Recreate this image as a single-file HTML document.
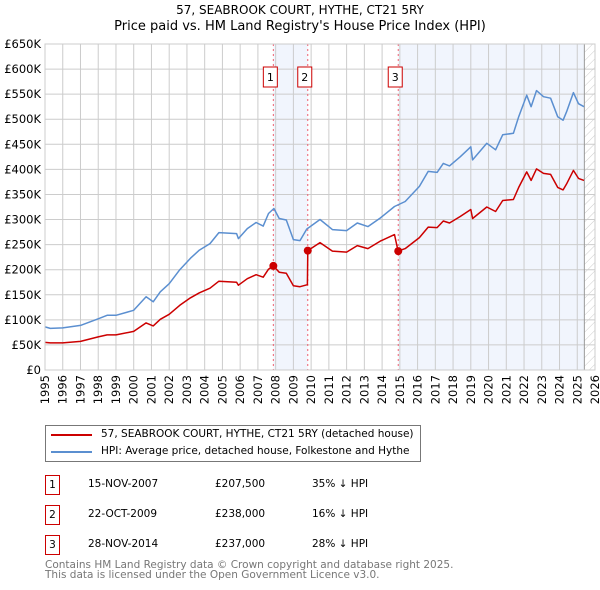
<!DOCTYPE html>
<html><head><meta charset="utf-8">
<style>
body{margin:0;background:#fff;font-family:"DejaVu Sans","Liberation Sans",sans-serif;}
#wrap{position:relative;width:600px;height:590px;overflow:hidden}
.t{position:absolute;font-size:10.5px;color:#000;white-space:nowrap}
</style></head>
<body>
<div id="wrap">
<svg id="chart" width="600" height="420" style="position:absolute;left:0;top:0"></svg>
<div class="t" style="left:0;width:600px;text-align:center;top:3px;font-size:12px">57, SEABROOK COURT, HYTHE, CT21 5RY</div>
<div class="t" style="left:0;width:600px;text-align:center;top:19px;font-size:13px">Price paid vs. HM Land Registry's House Price Index (HPI)</div>
<div style="position:absolute;left:45px;top:425px;width:376px;height:37px;border:1px solid #777;box-sizing:border-box">
  <div style="position:absolute;left:5px;top:8px;width:41px;height:2px;background:#cc0000"></div>
  <div class="t" style="left:55px;top:2px">57, SEABROOK COURT, HYTHE, CT21 5RY (detached house)</div>
  <div style="position:absolute;left:5px;top:25px;width:41px;height:2px;background:#5b8fd0"></div>
  <div class="t" style="left:55px;top:19px">HPI: Average price, detached house, Folkestone and Hythe</div>
</div>
<div id="table"></div>
<div class="t" style="left:45px;top:560px;color:#777;line-height:10px">Contains HM Land Registry data © Crown copyright and database right 2025.<br>This data is licensed under the Open Government Licence v3.0.</div>
</div>
<script>
const hpiYears=[1995,1995.3,1996,1997,1998,1998.5,1999,2000,2000.7,2001.1,2001.5,2002,2002.6,2003.2,2003.7,2004.3,2004.8,2005.8,2005.9,2006.4,2006.9,2007.3,2007.6,2007.9,2008.2,2008.6,2009.0,2009.37,2009.75,2010.5,2011.2,2012,2012.6,2013.2,2013.9,2014.7,2015.3,2016.1,2016.6,2017.1,2017.45,2017.8,2018.4,2019,2019.1,2019.9,2020.4,2020.8,2021.4,2021.7,2022.15,2022.4,2022.7,2023.1,2023.5,2023.9,2024.2,2024.4,2024.78,2025.07,2025.38];
const hpiValues=[86,83,84,89,102,109,109,119,146,136,156,172,200,223,239,252,274,272,262,282,294,287,312,322,302,299,260,258,281,300,280,278,293,286,303,326,336,366,396,394,412,407,425,445,419,452,439,469,472,505,548,525,557,545,542,505,498,515,553,531,525];
const redYears=[1995,1995.3,1996,1997,1998,1998.5,1999,2000,2000.7,2001.1,2001.5,2002,2002.6,2003.2,2003.7,2004.3,2004.8,2005.8,2005.9,2006.4,2006.9,2007.3,2007.6,2007.87,2008.2,2008.6,2009.0,2009.37,2009.79,2009.81,2010.5,2011.2,2012,2012.6,2013.2,2013.9,2014.7,2014.9,2015.3,2016.1,2016.6,2017.1,2017.45,2017.8,2018.4,2019,2019.1,2019.9,2020.4,2020.8,2021.4,2021.7,2022.15,2022.4,2022.7,2023.1,2023.5,2023.9,2024.2,2024.4,2024.78,2025.07,2025.38];
const redValues=[55,54,54,57,66,70,70,77,94,88,101,111,129,144,154,163,177,175,169,182,190,185,201,207.5,195,193,168,166,170,238,254,237,235,248,242,257,270,237,242,264,285,284,297,293,306,320,302,325,316,338,340,364,395,378,401,392,390,364,359,371,398,382,378];
const saleLabels=["1","2","3"];
const saleYears=[2007.87,2009.81,2014.91];
const salePrices=[207.5,238,237];
const saleDates=["15-NOV-2007","22-OCT-2009","28-NOV-2014"];
const salePriceText=["£207,500","£238,000","£237,000"];
const saleHpiText=["35% ↓ HPI","16% ↓ HPI","28% ↓ HPI"];
const yTicks=[0,50,100,150,200,250,300,350,400,450,500,550,600,650];
const xTicks=[1995,1996,1997,1998,1999,2000,2001,2002,2003,2004,2005,2006,2007,2008,2009,2010,2011,2012,2013,2014,2015,2016,2017,2018,2019,2020,2021,2022,2023,2024,2025,2026];

const X0=45,X1=595,Y0=370,Y1=44;
const xs=y=>X0+(y-1995)/(2026-1995)*(X1-X0);
const ys=v=>Y0-v/650*(Y0-Y1);
const NS="http://www.w3.org/2000/svg";
const svg=document.getElementById('chart');
function mk(tag,attrs,parent){const e=document.createElementNS(NS,tag);for(const k in attrs)e.setAttribute(k,attrs[k]);(parent||svg).appendChild(e);return e;}

let r=mk('rect',{x:xs(saleYears[0]),y:Y1,width:xs(saleYears[1])-xs(saleYears[0]),height:Y0-Y1,fill:'#eef3fc',opacity:0.8});


r=mk('rect',{x:xs(saleYears[2]),y:Y1,width:xs(2025.4)-xs(saleYears[2]),height:Y0-Y1,fill:'#eef3fc',opacity:0.8});


const defs=mk('defs',{});
const pat=mk('pattern',{id:'h',width:6,height:6,patternUnits:'userSpaceOnUse',patternTransform:'rotate(45)'},defs);
mk('line',{x1:0,y1:0,x2:0,y2:6,stroke:'#ccc','stroke-width':1},pat);
r=mk('rect',{x:xs(2025.4),y:Y1,width:X1-xs(2025.4),height:Y0-Y1,fill:'url(#h)'});


xTicks.forEach(t=>{const l=mk('line',{x1:xs(t),x2:xs(t),y1:Y1,y2:Y0,stroke:'#ccc','stroke-width':1});


const tx=mk('text',{x:0,y:0,transform:`translate(${xs(t)+4},${Y0+5}) rotate(-90)`,'text-anchor':'end','font-size':11.5,fill:'#000'});tx.textContent=t;

});
yTicks.forEach(t=>{const l=mk('line',{x1:X0,x2:X1,y1:ys(t),y2:ys(t),stroke:'#ccc','stroke-width':1});


const tx=mk('text',{x:X0-4,y:ys(t)+4,'text-anchor':'end','font-size':11.5,fill:'#000'});tx.textContent=t===0?'£0':'£'+t+'K';

});
r=mk('line',{x1:xs(2025.4),x2:xs(2025.4),y1:Y1,y2:Y0,stroke:'#999'});


saleYears.forEach((s,i)=>{const l=mk('line',{x1:xs(s),x2:xs(s),y1:Y1,y2:Y0,stroke:'#f06070','stroke-dasharray':'2,3','stroke-width':1});

});
function path(xa,va){return xa.map((y,i)=>(i?'L':'M')+xs(y).toFixed(1)+','+ys(va[i]).toFixed(1)).join('');}
let p=mk('path',{d:path(hpiYears,hpiValues),fill:'none',stroke:'#5b8fd0','stroke-width':1.5,'stroke-linejoin':'round'});


p=mk('path',{d:path(redYears,redValues),fill:'none',stroke:'#cc0000','stroke-width':1.5,'stroke-linejoin':'round'});


saleYears.forEach((s,i)=>{const c=mk('circle',{cx:xs(s),cy:ys(salePrices[i]),r:4,fill:'#cc0000'});


const g=mk('g',{});


mk('rect',{x:xs(s)-10,y:67,width:14,height:20,fill:'#fff',stroke:'#cc0000','stroke-width':1},g);
const t=mk('text',{x:xs(s)-3,y:81,'text-anchor':'middle','font-size':11,fill:'#000'},g);t.textContent=saleLabels[i];});
r=mk('rect',{x:X0,y:Y1,width:X1-X0,height:Y0-Y1,fill:'none',stroke:'#ccc'});



const tb=document.getElementById('table');
saleLabels.forEach((lab,i)=>{const top=475+i*30;
const row=document.createElement('div');


row.innerHTML=`<div style="position:absolute;left:45px;top:${top}px;width:15px;height:20px;border:1px solid #cc0000;box-sizing:border-box;font-size:10.5px;text-align:center;line-height:18px">${lab}</div>
<div class="t" style="left:88px;top:${top+3}px">${saleDates[i]}</div>
<div class="t" style="left:215px;top:${top+3}px">${salePriceText[i]}</div>
<div class="t" style="left:312px;top:${top+3}px">${saleHpiText[i]}</div>`;
tb.appendChild(row);});
</script>
</body></html>
